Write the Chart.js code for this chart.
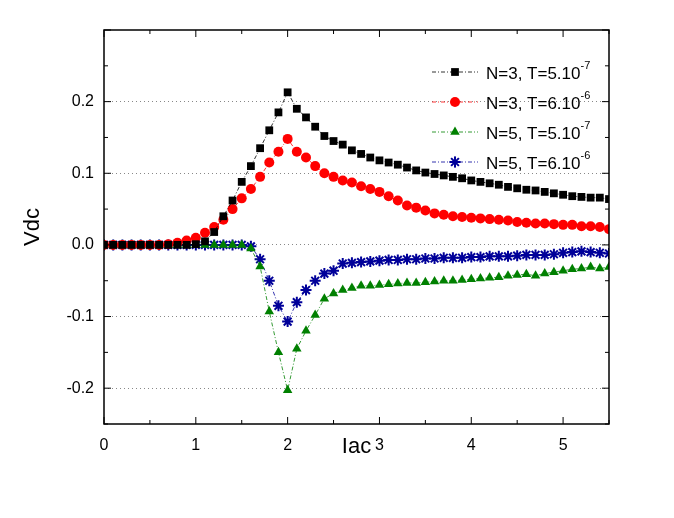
<!DOCTYPE html>
<html>
<head>
<meta charset="utf-8">
<script src="https://cdn.jsdelivr.net/npm/chart.js@4/dist/chart.umd.min.js"></script>
<style>
  html, body { margin: 0; padding: 0; background: #fff; }
  #wrap { width: 674px; height: 518px; }
</style>
</head>
<body>
<div id="wrap"><canvas id="c" width="674" height="518"></canvas></div>
<script>
// Iac sampled every 0.1 from 0 to 5.5
const iac = [];
for (let i = 0; i <= 55; i++) iac.push(+(i / 10).toFixed(1));

const n3T5 = [0,0,0,0,0,0,0,0,0,0, 0.001,0.005,0.018,0.040,0.062,0.088,0.110,0.135,0.160,0.185,
  0.213,0.190,0.178,0.165,0.152,0.145,0.140,0.132,0.127,0.122,
  0.118,0.115,0.112,0.108,0.104,0.101,0.099,0.097,0.095,0.093,
  0.090,0.088,0.086,0.084,0.081,0.079,0.077,0.076,0.074,0.072,
  0.070,0.068,0.067,0.066,0.066,0.064];
const n3T6 = [0,0,0,0,0,0,0,0.001,0.003,0.006, 0.010,0.017,0.025,0.035,0.050,0.065,0.078,0.095,0.115,0.130,
  0.148,0.130,0.122,0.110,0.100,0.095,0.090,0.087,0.082,0.078,
  0.074,0.068,0.062,0.055,0.052,0.048,0.044,0.042,0.040,0.039,
  0.038,0.037,0.036,0.035,0.034,0.032,0.031,0.030,0.030,0.029,
  0.028,0.028,0.026,0.026,0.025,0.022];
const n5T5 = [0,0,0,0,0,0,0,0,0,0, 0,0,0,0,0,0,-0.005,-0.030,-0.093,-0.150,
  -0.203,-0.145,-0.120,-0.098,-0.075,-0.068,-0.063,-0.060,-0.057,-0.057,
  -0.056,-0.055,-0.054,-0.053,-0.053,-0.052,-0.051,-0.050,-0.050,-0.049,
  -0.048,-0.047,-0.046,-0.045,-0.043,-0.042,-0.041,-0.043,-0.040,-0.038,
  -0.036,-0.034,-0.033,-0.031,-0.033,-0.031];
const n5T6 = [0,0,0,0,0,0,0,0,0,0, 0,0,0,0,0,0,-0.002,-0.020,-0.050,-0.085,
  -0.107,-0.080,-0.063,-0.050,-0.040,-0.036,-0.026,-0.025,-0.024,-0.023,
  -0.022,-0.021,-0.021,-0.020,-0.020,-0.019,-0.019,-0.018,-0.018,-0.018,
  -0.017,-0.017,-0.016,-0.016,-0.016,-0.015,-0.014,-0.014,-0.014,-0.013,
  -0.011,-0.010,-0.009,-0.010,-0.011,-0.012];

const xTicks = [0, 1, 2, 3, 4, 5];
const yTicks = [-0.2, -0.1, 0, 0.1, 0.2];

const seriesNames = [['N=3, T=5.10', '-7'], ['N=3, T=6.10', '-6'], ['N=5, T=5.10', '-7'], ['N=5, T=6.10', '-6']];
const seriesValues = [n3T5, n3T6, n5T5, n5T6];
const colors = ['#000000', '#ff0000', '#008000', '#000099'];
const shapes = ['rect', 'circle', 'triangle', 'star'];
const sizes = [5.5, 5, 5.5, 5.5];
const pborders = [0, 0, 0, 2];

const datasets = seriesValues.map((vals, k) => ({
  label: seriesNames[k].join(''),
  data: vals.map((v, i) => ({ x: iac[i], y: v })),
  borderColor: colors[k],
  backgroundColor: colors[k],
  borderWidth: 0.8,
  borderDash: [4, 2, 1, 2],
  pointStyle: shapes[k],
  pointRadius: sizes[k],
  pointBorderColor: colors[k],
  pointBorderWidth: pborders[k],
  showLine: true
}));

// frame, inward ticks and the legend
const framePlugin = {
  id: 'frame',
  afterDraw(chart) {
    const { ctx, chartArea: a, scales } = chart;
    ctx.save();
    ctx.strokeStyle = '#000';
    ctx.lineWidth = 1.5;
    ctx.strokeRect(a.left, a.top, a.right - a.left, a.bottom - a.top);
    ctx.lineWidth = 1;
    for (let v = 0; v <= 5.5; v += 0.5) {
      const x = scales.x.getPixelForValue(v);
      const len = Math.abs(v % 1) < 1e-6 ? 7 : 4;
      ctx.beginPath();
      ctx.moveTo(x, a.bottom); ctx.lineTo(x, a.bottom - len);
      ctx.moveTo(x, a.top); ctx.lineTo(x, a.top + len);
      ctx.stroke();
    }
    for (let v = -0.25; v <= 0.3001; v += 0.05) {
      const y = scales.y.getPixelForValue(v);
      const len = Math.abs(Math.round(v * 20) % 2) === 0 ? 7 : 4;
      ctx.beginPath();
      ctx.moveTo(a.left, y); ctx.lineTo(a.left + len, y);
      ctx.moveTo(a.right, y); ctx.lineTo(a.right - len, y);
      ctx.stroke();
    }
    // legend
    const rows = [75, 105, 135, 165].map(y => y - 3);
    rows.forEach((y, k) => {
      const x0 = 432, x1 = 478;
      ctx.strokeStyle = colors[k];
      ctx.lineWidth = 0.8;
      ctx.setLineDash([4, 2, 1, 2]);
      ctx.beginPath(); ctx.moveTo(x0, y); ctx.lineTo(x1, y); ctx.stroke();
      ctx.setLineDash([]);
      ctx.fillStyle = colors[k];
      ctx.strokeStyle = colors[k];
      Chart.helpers.drawPoint(ctx, { pointStyle: shapes[k], radius: sizes[k], borderWidth: pborders[k] }, (x0 + x1) / 2, y);
      if (pborders[k]) { ctx.lineWidth = pborders[k]; ctx.stroke(); }
      ctx.fillStyle = '#000';
      ctx.font = '17px "Liberation Sans", Arial, sans-serif';
      ctx.textBaseline = 'middle';
      const base = seriesNames[k][0];
      ctx.fillText(base, 486, y + 2);
      const w = ctx.measureText(base).width;
      ctx.font = '11px "Liberation Sans", Arial, sans-serif';
      ctx.fillText(seriesNames[k][1], 486 + w, y - 6);
    });
    ctx.restore();
  }
};

new Chart(document.getElementById('c'), {
  type: 'scatter',
  data: { datasets },
  options: {
    responsive: false,
    animation: false,
    layout: { padding: { top: 30, right: 65, left: 20, bottom: 58 } },
    plugins: { legend: { display: false }, tooltip: { enabled: false } },
    scales: {
      x: {
        type: 'linear', min: 0, max: 5.5,
        afterBuildTicks: s => { s.ticks = xTicks.map(v => ({ value: v })); },
        afterFit: s => { s.height = 36; },
        grid: { display: false },
        border: { display: false },
        ticks: { color: '#000', font: { size: 16, family: '"Liberation Sans", Arial' }, padding: 4, callback: v => String(v) },
        title: { display: true, text: 'Iac', color: '#000', font: { size: 22, family: '"Liberation Sans", Arial' }, padding: 0 }
      },
      y: {
        min: -0.25, max: 0.3,
        afterBuildTicks: s => { s.ticks = yTicks.map(v => ({ value: v })); },
        afterFit: s => { s.width = 84; },
        grid: { color: '#888', lineWidth: 1, drawTicks: false },
        border: { display: false, dash: [1, 3] },
        ticks: { color: '#000', font: { size: 16, family: '"Liberation Sans", Arial' }, padding: 10, callback: v => v.toFixed(1) },
        title: { display: true, text: 'Vdc', color: '#000', font: { size: 22, family: '"Liberation Sans", Arial' }, padding: 0 }
      }
    }
  },
  plugins: [framePlugin]
});
</script>
</body>
</html>
